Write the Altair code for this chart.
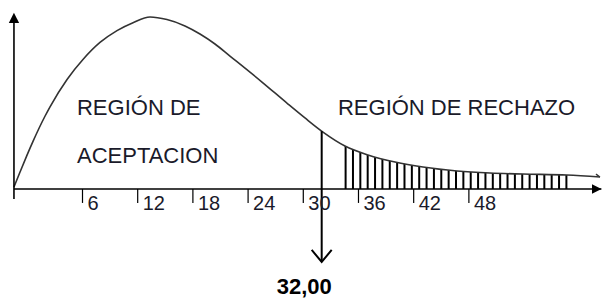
import altair as alt
import pandas as pd

# ---- data ----
curve_x = [-1.45, -0.79, -0.03, 0.62, 1.92, 2.47, 4.32, 6.05, 7.90, 9.75, 11.49, 13.34,
           15.18, 17.14, 18.77, 20.40, 22.03, 25.51, 28.34, 30.18, 32.14, 34.53, 37.03,
           39.97, 43.01, 46.71, 50.29, 53.88, 58.66, 62.25]
curve_y = [0.012, 0.099, 0.197, 0.277, 0.423, 0.478, 0.637, 0.753, 0.852, 0.921, 0.967, 1.0,
           0.985, 0.948, 0.901, 0.843, 0.773, 0.622, 0.494, 0.413, 0.331, 0.250, 0.198,
           0.157, 0.128, 0.105, 0.093, 0.087, 0.081, 0.070]

hatch_x = [34.6, 35.4, 36.2, 37.0, 37.8, 38.6, 39.4, 40.2, 41.0, 41.8, 42.6, 43.4, 44.2,
           45.0, 45.8, 46.6, 47.4, 48.2, 49.0, 49.8, 50.6, 51.4, 52.2, 53.0, 53.8, 54.6,
           55.4, 56.2, 57.0, 57.8, 58.6]

tick_values = [6, 12, 18, 24, 30, 36, 42, 48]
tick_labels = ["6", "12", "18", "24", "30", "36", "42", "48"]

critical_value = 32.0
critical_label = "32,00"
critical_top = 0.336

region_text = ["REGIÓN DE", "ACEPTACION", "REGIÓN DE RECHAZO"]
region_x = [5.4, 5.4, 33.77]
region_y = [0.43, 0.151, 0.43]

origin_x = -1.45
axis_end_x = 62.4
yaxis_top = 1.0

# ---- tables ----
curve_df = pd.DataFrame({"v": curve_x, "d": curve_y})
mask_df = curve_df[curve_df.v >= 32.1].assign(top=0.36)
hatch_df = pd.DataFrame({"v": hatch_x, "y0": 0.0, "y1": 0.3})
ticks_df = pd.DataFrame({"v": tick_values, "label": tick_labels,
                         "y0": 0.0, "y1": -0.081, "ly": -0.122})
xaxis_df = pd.DataFrame({"x0": [origin_x], "x1": [axis_end_x], "y": [0.0]})
yaxis_df = pd.DataFrame({"x": [origin_x], "y0": [-0.058], "y1": [yaxis_top]})
crit_df = pd.DataFrame({"x": [critical_value], "y0": [-0.424], "y1": [critical_top]})
crit_lab_df = pd.DataFrame({"x": [30.1], "y": [-0.61], "t": [critical_label]})
region_df = pd.DataFrame({"x": region_x, "y": region_y, "t": region_text})
yarrow_df = pd.DataFrame({"x": [origin_x], "y": [0.995]})
xarrow_df = pd.DataFrame({"x": [61.9], "y": [0.0]})
darrow_df = pd.DataFrame({"x": [critical_value], "y": [-0.424]})
carrow_df = pd.DataFrame({"x": [curve_x[-1]], "y": [curve_y[-1]]})

xs = alt.Scale(domain=[-2.098, 62.47], nice=False, zero=False)
ys = alt.Scale(domain=[-0.6453, 1.0523], nice=False, zero=False)


def X(f):
    return alt.X(f, type="quantitative", scale=xs, axis=None)


def Y(f):
    return alt.Y(f, type="quantitative", scale=ys, axis=None)


FONT = "Liberation Sans"

hatch = alt.Chart(hatch_df).mark_rule(color="black", strokeWidth=2).encode(
    x=X("v"), y=Y("y0"), y2="y1")
mask = alt.Chart(mask_df).mark_area(color="white", opacity=1, interpolate="monotone").encode(
    x=X("v"), y=Y("d"), y2="top")
curve = alt.Chart(curve_df).mark_line(color="#333333", strokeWidth=1.6, interpolate="monotone").encode(
    x=X("v"), y=Y("d"))
xaxis = alt.Chart(xaxis_df).mark_rule(color="black", strokeWidth=1.6).encode(
    x=X("x0"), x2="x1", y=Y("y"))
yaxis = alt.Chart(yaxis_df).mark_rule(color="black", strokeWidth=1.6).encode(
    x=X("x"), y=Y("y0"), y2="y1")
ticks = alt.Chart(ticks_df).mark_rule(color="black", strokeWidth=1.2).encode(
    x=X("v"), y=Y("y0"), y2="y1")
tick_text = alt.Chart(ticks_df).mark_text(
    align="left", baseline="alphabetic", font=FONT, fontSize=20, dx=5, color="#1a1a2a"
).encode(x=X("v"), y=Y("ly"), text="label")
crit = alt.Chart(crit_df).mark_rule(color="black", strokeWidth=2).encode(
    x=X("x"), y=Y("y0"), y2="y1")
crit_text = alt.Chart(crit_lab_df).mark_text(
    align="center", baseline="alphabetic", font=FONT, fontSize=22, fontWeight="bold", color="black"
).encode(x=X("x"), y=Y("y"), text="t")
regions = alt.Chart(region_df).mark_text(
    align="left", baseline="alphabetic", font=FONT, fontSize=22, color="#1a1a2a"
).encode(x=X("x"), y=Y("y"), text="t")
yarrow = alt.Chart(yarrow_df).mark_point(
    shape="M0,-1L1,1L-1,1Z", filled=True, size=106, color="black", opacity=1
).encode(x=X("x"), y=Y("y"))
xarrow = alt.Chart(xarrow_df).mark_point(
    shape="M1,0L-1,-1L-1,1Z", filled=True, size=90, color="black", opacity=1
).encode(x=X("x"), y=Y("y"))
darrow = alt.Chart(darrow_df).mark_point(
    shape="M-1,-1.2L0,0L1,-1.2", filled=False, size=400, color="black", strokeWidth=2, opacity=1
).encode(x=X("x"), y=Y("y"))
carrow = alt.Chart(carrow_df).mark_point(
    shape="M-1,-0.7L0,0", filled=False, size=64, color="#333333", strokeWidth=1.4, opacity=1
).encode(x=X("x"), y=Y("y"))

chart = alt.layer(
    hatch, mask, curve, xaxis, yaxis, ticks, crit, tick_text, crit_text, regions,
    yarrow, xarrow, darrow, carrow
).properties(
    width=594, height=292, padding=0, background="white",
    autosize=alt.AutoSizeParams(type="none")
).configure_view(stroke=None)

chart.save("out.html", embed_options={"renderer": "svg", "actions": False})
